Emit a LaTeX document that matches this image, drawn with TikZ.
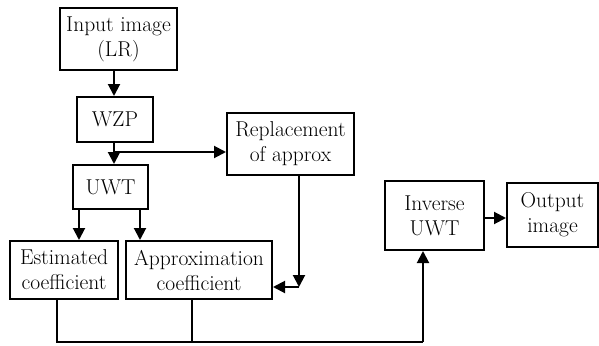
\documentclass[tikz,border=0pt]{standalone}
\usetikzlibrary{arrows.meta}
\begin{document}
\begin{tikzpicture}[x=1pt,y=-1pt,
  blk/.style={draw,line width=2pt,inner sep=0pt,align=center,
    font=\fontsize{21.5}{25}\selectfont},
  ln/.style={line width=2pt},
  arr/.style={ln,-{Triangle[length=12pt,width=12pt]}}]
\useasboundingbox (0,0) rectangle (599,345);
\node[blk,minimum width=117pt,minimum height=62pt] (inp) at (118.5,39) {Input image\\(LR)};
\node[blk,minimum width=76pt,minimum height=45pt] (wzp) at (115,119.5) {WZP};
\node[blk,minimum width=75pt,minimum height=44pt] (uwt) at (110.5,187) {UWT};
\node[blk,minimum width=127pt,minimum height=62pt] (rep) at (290.5,144) {Replacement\\of approx};
\node[blk,minimum width=108pt,minimum height=58pt] (est) at (64,270) {Estimated\\coefficient};
\node[blk,minimum width=146pt,minimum height=58pt] (apx) at (199,270) {Approximation\\coefficient};
\node[blk,minimum width=99pt,minimum height=69pt] (inv) at (434.5,215.5) {Inverse\\UWT};
\node[blk,minimum width=91pt,minimum height=64pt] (out) at (552.5,215) {Output\\image};
\coordinate (br) at (114,152);
\coordinate (cor) at (299,287);
\coordinate (bot) at (423,342);
\draw[arr] (inp.south -| br) -- (wzp.north -| br);
\draw[arr] (wzp.south -| br) -- (uwt.north -| br);
\draw[arr] (br) -- (br -| rep.west);
\draw[arr] ([xshift=7pt]uwt.south west) -- ([xshift=7pt]uwt.south west |- est.north);
\draw[arr] ([xshift=-9pt]uwt.south east) -- ([xshift=-9pt]uwt.south east |- apx.north);
\draw[arr] (rep.south -| cor) -- (cor);
\draw[arr] (cor) -- (cor -| apx.east);
\draw[ln] ([xshift=-7pt]est.south) -- ([xshift=-7pt]est.south |- bot) -- (bot);
\draw[ln] ([xshift=-7pt]apx.south) -- ([xshift=-7pt]apx.south |- bot);
\draw[arr] (bot) -- (bot |- inv.south);
\draw[arr] (inv.east |- 0,218) -- (out.west |- 0,218);
\end{tikzpicture}
\end{document}
